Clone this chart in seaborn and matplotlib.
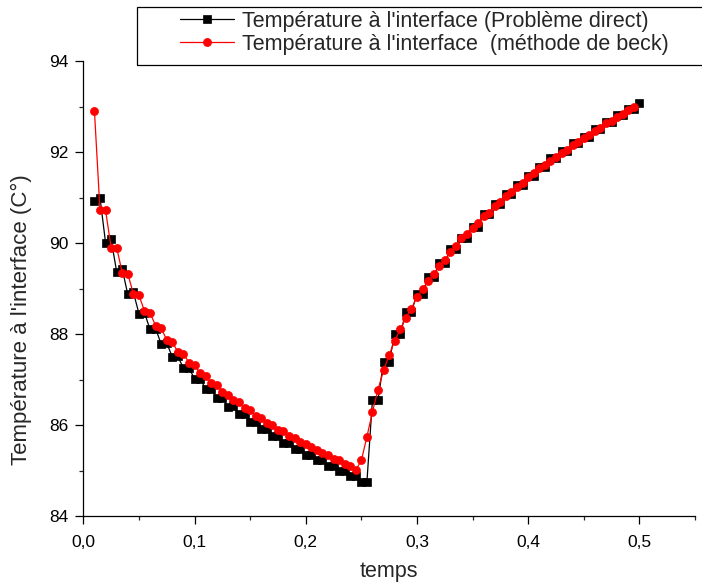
import numpy as np
import pandas as pd
import matplotlib
matplotlib.use("Agg")
import matplotlib.pyplot as plt
from matplotlib.patches import Rectangle
from matplotlib.ticker import MultipleLocator, FuncFormatter
import seaborn as sns

# Time grid (s) and interface temperatures (°C)
temps_direct = [0.010, 0.015, 0.020, 0.025, 0.030, 0.035, 0.040, 0.045, 0.050, 0.055,
                0.060, 0.065, 0.070, 0.075, 0.080, 0.085, 0.090, 0.095, 0.100, 0.105,
                0.110, 0.115, 0.120, 0.125, 0.130, 0.135, 0.140, 0.145, 0.150, 0.155,
                0.160, 0.165, 0.170, 0.175, 0.180, 0.185, 0.190, 0.195, 0.200, 0.205,
                0.210, 0.215, 0.220, 0.225, 0.230, 0.235, 0.240, 0.245, 0.250, 0.255,
                0.260, 0.265, 0.270, 0.275, 0.280, 0.285, 0.290, 0.295, 0.300, 0.305,
                0.310, 0.315, 0.320, 0.325, 0.330, 0.335, 0.340, 0.345, 0.350, 0.355,
                0.360, 0.365, 0.370, 0.375, 0.380, 0.385, 0.390, 0.395, 0.400, 0.405,
                0.410, 0.415, 0.420, 0.425, 0.430, 0.435, 0.440, 0.445, 0.450, 0.455,
                0.460, 0.465, 0.470, 0.475, 0.480, 0.485, 0.490, 0.495, 0.500]

T_direct = [90.93, 91.00, 90.01, 90.08, 89.37, 89.43, 88.87, 88.92, 88.45, 88.47,
            88.10, 88.12, 87.78, 87.80, 87.50, 87.51, 87.25, 87.26, 87.01, 87.02,
            86.79, 86.80, 86.60, 86.60, 86.40, 86.41, 86.24, 86.24, 86.07, 86.07,
            85.91, 85.91, 85.75, 85.75, 85.61, 85.61, 85.48, 85.48, 85.35, 85.35,
            85.22, 85.22, 85.10, 85.10, 84.98, 84.98, 84.87, 84.87, 84.75, 84.75,
            86.55, 86.55, 87.39, 87.39, 87.99, 87.99, 88.48, 88.48, 88.88, 88.88,
            89.25, 89.25, 89.57, 89.57, 89.86, 89.86, 90.11, 90.11, 90.36, 90.36,
            90.63, 90.63, 90.86, 90.86, 91.07, 91.07, 91.27, 91.27, 91.47, 91.47,
            91.66, 91.66, 91.86, 91.86, 92.02, 92.02, 92.19, 92.19, 92.34, 92.34,
            92.50, 92.50, 92.66, 92.66, 92.81, 92.81, 92.95, 92.95, 93.08]

temps_beck = temps_direct[:-1]

T_beck = [92.91, 90.72, 90.72, 89.90, 89.90, 89.35, 89.32, 88.89, 88.85, 88.51,
          88.47, 88.18, 88.13, 87.87, 87.82, 87.61, 87.57, 87.37, 87.31, 87.14,
          87.08, 86.92, 86.87, 86.73, 86.67, 86.54, 86.50, 86.37, 86.32, 86.20,
          86.16, 86.04, 86.00, 85.90, 85.86, 85.76, 85.72, 85.63, 85.59, 85.51,
          85.46, 85.38, 85.34, 85.26, 85.22, 85.14, 85.09, 85.01, 85.22, 85.74,
          86.29, 86.78, 87.20, 87.54, 87.85, 88.10, 88.36, 88.56, 88.81, 88.98,
          89.16, 89.31, 89.49, 89.62, 89.80, 89.93, 90.11, 90.20, 90.34, 90.45,
          90.59, 90.67, 90.82, 90.90, 91.03, 91.11, 91.24, 91.32, 91.44, 91.53,
          91.65, 91.72, 91.81, 91.90, 91.98, 92.05, 92.16, 92.22, 92.30, 92.37,
          92.47, 92.53, 92.63, 92.69, 92.78, 92.84, 92.92, 93.00]

label_direct = "Température à l'interface (Problème direct)"
label_beck = "Température à l'interface  (méthode de beck)"

df_direct = pd.DataFrame({"temps": temps_direct, "T": T_direct})
df_beck = pd.DataFrame({"temps": temps_beck, "T": T_beck})

sns.set_style("ticks")
plt.rcParams["font.family"] = ["Liberation Sans", "DejaVu Sans"]

FS = 15.5
fig = plt.figure(figsize=(7.02, 5.88), dpi=100)
ax = fig.add_axes([83.3 / 702, 1 - 516 / 588, (695 - 83.3) / 702, (516 - 61) / 588])

sns.lineplot(data=df_direct, x="temps", y="T", ax=ax, color="black", lw=0.9,
             marker="s", markersize=5.6, markeredgecolor="black", markeredgewidth=0.5,
             estimator=None, sort=False)
sns.lineplot(data=df_beck, x="temps", y="T", ax=ax, color="red", lw=0.9,
             marker="o", markersize=5.8, markeredgecolor="red", markeredgewidth=0.5,
             estimator=None, sort=False)

ax.set_xlim(0, 0.55)
ax.set_ylim(84, 94)
ax.xaxis.set_major_locator(MultipleLocator(0.1))
ax.xaxis.set_minor_locator(MultipleLocator(0.05))
ax.yaxis.set_major_locator(MultipleLocator(2))
ax.yaxis.set_minor_locator(MultipleLocator(1))
ax.xaxis.set_major_formatter(FuncFormatter(lambda v, p: f"{v:.1f}".replace(".", ",")))
ax.yaxis.set_major_formatter(FuncFormatter(lambda v, p: f"{v:.0f}"))
ax.tick_params(which="major", direction="out", length=5.5, width=0.9,
               labelsize=12.5, pad=5, colors="black")
ax.tick_params(which="minor", direction="out", length=3.1, width=0.9)
ax.tick_params(axis="x", which="major", pad=8)

for side in ("top", "right"):
    ax.spines[side].set_visible(False)
for side in ("left", "bottom"):
    ax.spines[side].set_linewidth(0.9)
    ax.spines[side].set_color("black")

ax.set_xlabel("temps", fontsize=FS, labelpad=8)
ax.set_ylabel("Température à l'interface (C°)", fontsize=16)
ax.yaxis.set_label_coords(-(83.3 - 32) / (695 - 83.3), (516 - 320) / (516 - 61))

handles = ax.get_lines()[:2]
fig.legend(handles, [label_direct, label_beck], loc="upper left",
           bbox_to_anchor=(180 / 702, 1 - 10.6 / 588), frameon=False, fontsize=FS,
           handlelength=2.5, handletextpad=0.36, labelspacing=0.1,
           borderpad=0, borderaxespad=0)
fig.add_artist(Rectangle((136.7 / 702, 1 - 65 / 588), (760 - 136.7) / 702, (65 - 6.7) / 588,
                         transform=fig.transFigure, fill=False, edgecolor="black", lw=0.9))

fig.savefig("out.png", dpi=100)
